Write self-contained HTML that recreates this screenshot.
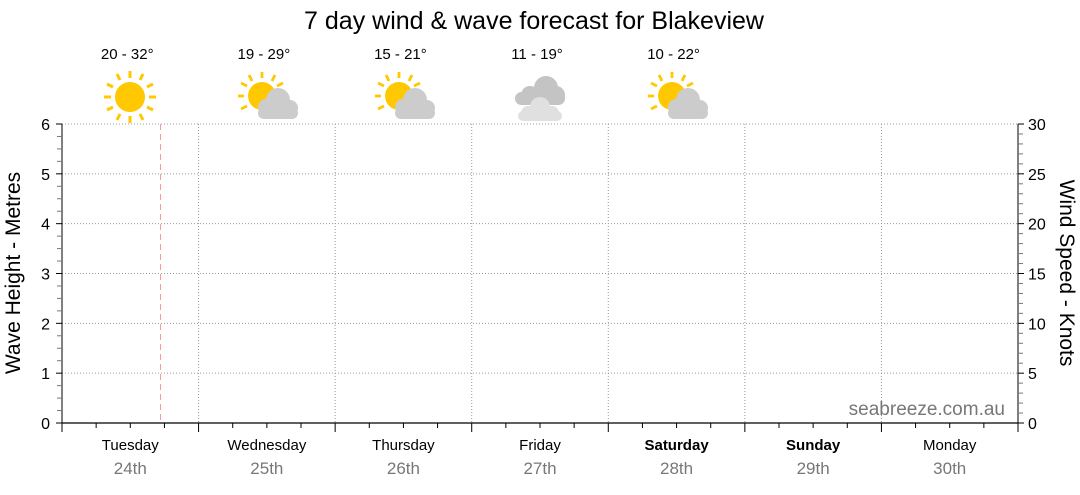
<!DOCTYPE html>
<html><head><meta charset="utf-8"><style>
body{margin:0;background:#fff;width:1080px;height:490px;overflow:hidden}
svg text{font-family:"Liberation Sans",sans-serif}
</style></head><body>
<svg id="s" width="1080" height="490" xmlns="http://www.w3.org/2000/svg">
<defs>
<g id="sun">
<circle r="15" fill="#ffc800"/>
<g stroke="#ffc800" stroke-width="3">
<line x1="0" y1="-19" x2="0" y2="-26"/><line x1="0" y1="19" x2="0" y2="26"/>
<line x1="-19" y1="0" x2="-26" y2="0"/><line x1="19" y1="0" x2="26" y2="0"/>
<line x1="10" y1="-17" x2="13" y2="-23"/><line x1="-10" y1="-17" x2="-13" y2="-23"/>
<line x1="10" y1="17" x2="13" y2="23"/><line x1="-10" y1="17" x2="-13" y2="23"/>
<line x1="17" y1="-10" x2="23" y2="-13"/><line x1="-17" y1="-10" x2="-23" y2="-13"/>
<line x1="17" y1="10" x2="23" y2="13"/><line x1="-17" y1="10" x2="-23" y2="13"/>
</g></g>
<g id="psun">
<circle r="14" fill="#ffc800"/>
<g stroke="#ffc800" stroke-width="2.8">
<line x1="0" y1="-18" x2="0" y2="-24"/><line x1="-18" y1="0" x2="-24" y2="0"/>
<line x1="10" y1="-15" x2="13" y2="-21"/><line x1="-10" y1="-15" x2="-13" y2="-21"/>
<line x1="-15" y1="-10" x2="-21" y2="-13"/><line x1="-15" y1="10" x2="-21" y2="13"/>
<line x1="15" y1="-10" x2="21" y2="-13"/>
</g>
<g fill="#cccccc"><circle cx="16" cy="4" r="12"/><circle cx="4" cy="11" r="8"/><circle cx="28" cy="12" r="8"/><rect x="-4" y="11" width="40" height="12" rx="6"/></g>
</g>
</defs>
<text x="534" y="29" font-size="25" text-anchor="middle" fill="#000">7 day wind &amp; wave forecast for Blakeview</text>
<g id="g"></g>
</svg>
<script>
var g=document.getElementById('g'),h='';
var L=62,R=1018,T=124,B=423,W=(R-L)/7;
for(var i=1;i<=6;i++){var y=B-i*(B-T)/6;h+='<line x1="'+L+'" x2="'+R+'" y1="'+y+'" y2="'+y+'" stroke="#999" stroke-dasharray="1,2"/>';}
for(var i=1;i<7;i++){var x=L+i*W;h+='<line x1="'+x+'" x2="'+x+'" y1="'+T+'" y2="'+B+'" stroke="#999" stroke-dasharray="1,2"/>';}
h+='<line x1="160.5" x2="160.5" y1="'+T+'" y2="'+B+'" stroke="#f99" stroke-dasharray="6,4"/>';
h+='<line x1="'+L+'" x2="'+L+'" y1="'+T+'" y2="'+B+'" stroke="#000"/>';
h+='<line x1="'+R+'" x2="'+R+'" y1="'+T+'" y2="'+B+'" stroke="#000"/>';
h+='<line x1="'+L+'" x2="'+R+'" y1="'+B+'" y2="'+B+'" stroke="#000" stroke-width="1.2"/>';
for(var i=0;i<=24;i++){var y=B-i*(B-T)/24,maj=i%4==0;
 h+='<line x1="'+(L-(maj?6:5))+'" x2="'+L+'" y1="'+y+'" y2="'+y+'" stroke="'+(maj?'#000':'#777')+'"/>';
 if(maj)h+='<text x="50" y="'+(y+6)+'" font-size="16" text-anchor="end">'+(i/4)+'</text>';}
for(var i=0;i<=30;i++){var y=B-i*(B-T)/30,maj=i%5==0;
 h+='<line x1="'+R+'" x2="'+(R+(maj?6:5))+'" y1="'+y+'" y2="'+y+'" stroke="'+(maj?'#000':'#777')+'"/>';
 if(maj)h+='<text x="1028" y="'+(y+6)+'" font-size="16">'+i+'</text>';}
for(var i=0;i<=28;i++){var x=L+i*W/4,maj=i%4==0;h+='<line x1="'+x+'" x2="'+x+'" y1="'+B+'" y2="'+(B+(maj?9:5))+'" stroke="#000"/>';}
var days=['Tuesday','Wednesday','Thursday','Friday','Saturday','Sunday','Monday'];
var dates=['24th','25th','26th','27th','28th','29th','30th'];
for(var i=0;i<7;i++){var x=L+(i+0.5)*W;
 h+='<text x="'+x+'" y="450" font-size="15" text-anchor="middle"'+(i==4||i==5?' font-weight="bold"':'')+'>'+days[i]+'</text>';
 h+='<text x="'+x+'" y="474" font-size="17" text-anchor="middle" fill="#777">'+dates[i]+'</text>';}
var temps=['20 - 32°','19 - 29°','15 - 21°','11 - 19°','10 - 22°'];
for(var i=0;i<5;i++){var x=L+(i+0.5)*W;h+='<text x="'+(x-3)+'" y="59" font-size="15" text-anchor="middle">'+temps[i]+'</text>';}
h+='<use href="#sun" x="130" y="97"/>';
h+='<use href="#psun" x="262" y="96"/><use href="#psun" x="399" y="96"/><use href="#psun" x="672" y="96"/>';
h+='<g fill="#c4c4c4"><circle cx="546" cy="88" r="12"/><circle cx="530" cy="95" r="9"/><rect x="515" y="92" width="50" height="13" rx="6.5"/><circle cx="556" cy="95" r="9"/></g>';
h+='<g fill="#e0e0e0"><circle cx="540" cy="107" r="10"/><circle cx="528" cy="113" r="7"/><circle cx="552" cy="113" r="7"/><rect x="518" y="111" width="44" height="10" rx="5"/></g>';
h+='<text x="1005" y="415" font-size="19" text-anchor="end" fill="#777">seabreeze.com.au</text>';
h+='<text transform="translate(20,273) rotate(-90)" font-size="21" text-anchor="middle">Wave Height - Metres</text>';
h+='<text transform="translate(1060,273) rotate(90)" font-size="21" text-anchor="middle">Wind Speed - Knots</text>';
g.innerHTML=h;
</script>
</body></html>
